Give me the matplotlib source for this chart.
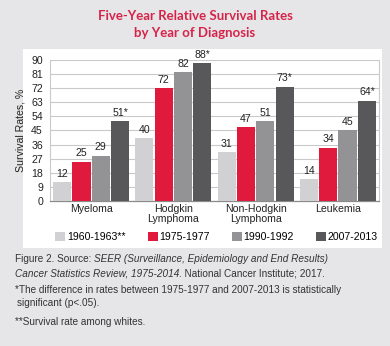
import matplotlib
matplotlib.use("Agg")
import matplotlib.pyplot as plt
from matplotlib.patches import Rectangle, Patch
import numpy as np

categories = ["Myeloma", "Hodgkin\nLymphoma", "Non-Hodgkin\nLymphoma", "Leukemia"]
periods = ["1960-1963**", "1975-1977", "1990-1992", "2007-2013"]
rates = {
    "1960-1963**": [12, 40, 31, 14],
    "1975-1977": [25, 72, 47, 34],
    "1990-1992": [29, 82, 51, 45],
    "2007-2013": [51, 88, 73, 64],
}
significant = [True, True, True, True]  # applies to the 2007-2013 series
yticks = list(range(0, 91, 9))

colors = ["#d1d1d3", "#e01a3c", "#939396", "#58585a"]
bg = "#e6e6e8"
title_color = "#d62349"
font = "Liberation Sans"

fig = plt.figure(figsize=(3.9, 3.46), dpi=100, facecolor=bg)

# white panel behind the chart
fig.patches.append(Rectangle((0.059, 0.283), 0.920, 0.575, transform=fig.transFigure,
                             facecolor="white", edgecolor="none", zorder=-1))

ax = fig.add_axes([0.128, 0.419, 0.844, 0.408])
ax.set_facecolor("none")

x = np.arange(len(categories))
step = 0.235
width = 0.222
for i, p in enumerate(periods):
    vals = rates[p]
    bars = ax.bar(x + (i - 1.5) * step, vals, width, color=colors[i], zorder=3, label=p)
    if i == len(periods) - 1:
        labels = [f"{v}*" if s else f"{v}" for v, s in zip(vals, significant)]
    else:
        labels = [f"{v}" for v in vals]
    ax.bar_label(bars, labels=labels, padding=2.5, fontsize=7.6, family=font, color="#222222")

ax.set_xlim(-0.5, 3.5)
ax.set_ylim(0, 90)
ax.set_yticks(yticks)
ax.set_xticks(x)
ax.set_xticklabels(categories, fontsize=7.6, family=font, linespacing=1.0)
for lab in ax.get_yticklabels():
    lab.set_fontsize(7.6)
    lab.set_family(font)
ax.tick_params(axis="both", length=0, colors="#222222")
ax.tick_params(axis="y", pad=5)
ax.tick_params(axis="x", pad=2.5)
ax.grid(axis="y", color="#c9c9c9", linewidth=0.8, zorder=0)
for s in ["left", "right"]:
    ax.spines[s].set_color("#c9c9c9")
    ax.spines[s].set_linewidth(0.8)
ax.spines["top"].set_visible(False)
ax.spines["bottom"].set_color("#8a8a8a")
ax.spines["bottom"].set_linewidth(0.9)
ax.set_ylabel("Survival Rates, %", fontsize=7.6, family=font, color="#222222")
ax.yaxis.set_label_coords(-0.073, 0.5)

handles = [Patch(facecolor=c, edgecolor="none") for c in colors]
fig.legend(handles, periods, loc="center", bbox_to_anchor=(0.555, 1 - 237 / 346), ncol=4,
           frameon=False, handlelength=0.95, handleheight=0.95, handletextpad=0.15,
           columnspacing=2.1, prop={"family": font, "size": 7.6})

fig.text(0.5, 1 - 16 / 346, "Five-Year Relative Survival Rates", ha="center", va="center",
         fontsize=9.5, fontweight="bold", family="Lato", color=title_color)
fig.text(0.5, 1 - 33 / 346, "by Year of Diagnosis", ha="center", va="center",
         fontsize=9.5, fontweight="bold", family="Lato", color=title_color)

fs = 7.2
tc = "#333333"


def chain(prev, text, style="normal"):
    # continue a line of footer text right after the previous piece
    return ax.annotate(text, xy=(1, 0), xycoords=prev, va="bottom", ha="left",
                       fontsize=fs, family=font, style=style, color=tc, annotation_clip=False)


t = fig.text(15 / 390, 1 - 262 / 346, "Figure 2. Source: ", fontsize=fs, family=font, color=tc)
t = chain(t, "SEER (Surveillance, Epidemiology and End Results)", "italic")
t = fig.text(15 / 390, 1 - 276 / 346, "Cancer Statistics Review, 1975-2014", fontsize=fs,
             family=font, style="italic", color=tc)
t = chain(t, ". National Cancer Institute; 2017.")
fig.text(15 / 390, 1 - 293 / 346, "*The difference in rates between 1975-1977 and 2007-2013 is statistically",
         fontsize=fs, family=font, color=tc)
fig.text(17 / 390, 1 - 306 / 346, "significant (p<.05).", fontsize=fs, family=font, color=tc)
fig.text(15 / 390, 1 - 325 / 346, "**Survival rate among whites.", fontsize=fs, family=font, color=tc)

fig.savefig("out.png", dpi=100, facecolor=bg)
